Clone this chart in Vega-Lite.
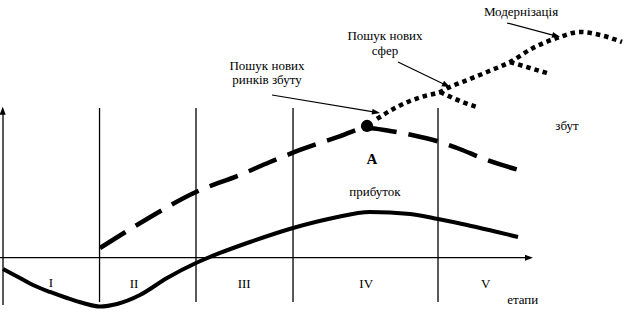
{
  "$schema": "https://vega.github.io/schema/vega-lite/v6.json",
  "width": 626,
  "height": 319,
  "padding": 0,
  "autosize": {"type": "none"},
  "config": {"view": {"stroke": null}},
  "datasets": {
    "profit": [
      {"x": 0.48, "y": -4.53}, {"x": 3.19, "y": -8.15}, {"x": 5.27, "y": -10.95}, {"x": 7.99, "y": -13.76},
      {"x": 10.7, "y": -16.17}, {"x": 13.26, "y": -18.18},
      {"x": 15.97, "y": -19.58}, {"x": 18.69, "y": -18.58}, {"x": 22.36, "y": -14.97}, {"x": 26.68, "y": -8.15},
      {"x": 31.31, "y": -2.13}, {"x": 35.14, "y": 1.89}, {"x": 39.94, "y": 6.3}, {"x": 46.81, "y": 11.92},
      {"x": 53.19, "y": 15.93}, {"x": 59.11, "y": 18.34}, {"x": 65.5, "y": 17.54}, {"x": 69.97, "y": 15.53},
      {"x": 74.6, "y": 13.12}, {"x": 78.75, "y": 10.71}, {"x": 82.75, "y": 8.31}
    ],
    "sales": [
      {"x": 15.97, "y": 3.89}, {"x": 22.68, "y": 14.33}, {"x": 31.31, "y": 26.37}, {"x": 38.34, "y": 33.19},
      {"x": 43.13, "y": 38.4}, {"x": 47.92, "y": 43.22}, {"x": 53.99, "y": 48.44}, {"x": 58.63, "y": 52.05},
      {"x": 62.3, "y": 50.84}, {"x": 65.81, "y": 49.24}, {"x": 70.29, "y": 46.43}, {"x": 73.0, "y": 44.02},
      {"x": 77.8, "y": 39.21}, {"x": 84.03, "y": 34.4}
    ],
    "growth": [
      {"branch": "main", "x": 60.22, "y": 55.66}, {"branch": "main", "x": 63.1, "y": 60.07},
      {"branch": "main", "x": 65.5, "y": 62.88}, {"branch": "main", "x": 67.89, "y": 64.89},
      {"branch": "main", "x": 70.29, "y": 66.49}, {"branch": "main", "x": 71.88, "y": 68.5},
      {"branch": "main", "x": 75.08, "y": 71.71}, {"branch": "main", "x": 77.8, "y": 74.52},
      {"branch": "main", "x": 81.47, "y": 78.53}, {"branch": "main", "x": 85.14, "y": 84.15},
      {"branch": "main", "x": 88.98, "y": 88.17}, {"branch": "main", "x": 92.65, "y": 90.57},
      {"branch": "main", "x": 95.85, "y": 89.37}, {"branch": "main", "x": 99.36, "y": 86.56},
      {"branch": "spheres", "x": 70.29, "y": 66.49}, {"branch": "spheres", "x": 73.48, "y": 62.88},
      {"branch": "spheres", "x": 76.2, "y": 60.47},
      {"branch": "modern", "x": 81.47, "y": 78.53}, {"branch": "modern", "x": 84.66, "y": 76.12},
      {"branch": "modern", "x": 87.86, "y": 73.72}
    ],
    "frame": [
      {"x": 0.48, "y": -19.0, "x2": 0.48, "y2": 59.5},
      {"x": 0.0, "y": 0.0, "x2": 84.4, "y2": 0.0},
      {"x": 15.9, "y": -17.8, "x2": 15.9, "y2": 60.1},
      {"x": 31.31, "y": -17.8, "x2": 31.31, "y2": 60.1},
      {"x": 46.81, "y": -17.8, "x2": 46.81, "y2": 60.1},
      {"x": 69.97, "y": -17.8, "x2": 69.97, "y2": 60.1}
    ],
    "pointers": [
      {"x": 80.99, "y": 94.18, "x2": 89.2, "y2": 88.7},
      {"x": 63.58, "y": 78.53, "x2": 71.6, "y2": 68.8},
      {"x": 43.45, "y": 65.29, "x2": 60.4, "y2": 58.2}
    ],
    "labels": [
      {"x": 83.23, "y": 98.6, "t": "Модернізація"},
      {"x": 61.5, "y": 89.0, "t": "Пошук нових"},
      {"x": 61.5, "y": 82.9, "t": "сфер"},
      {"x": 42.65, "y": 76.9, "t": "Пошук нових"},
      {"x": 42.65, "y": 71.3, "t": "ринків збуту"},
      {"x": 90.58, "y": 52.9, "t": "збут"},
      {"x": 59.9, "y": 26.4, "t": "прибуток"},
      {"x": 8.15, "y": -10.2, "t": "I"},
      {"x": 21.4, "y": -10.6, "t": "II"},
      {"x": 39.0, "y": -10.6, "t": "III"},
      {"x": 58.5, "y": -10.6, "t": "IV"},
      {"x": 77.6, "y": -10.6, "t": "V"},
      {"x": 83.5, "y": -17.0, "t": "етапи"}
    ]
  },
  "encoding": {
    "x": {"field": "x", "type": "quantitative", "scale": {"domain": [0, 100], "nice": false, "zero": false}, "axis": null},
    "y": {"field": "y", "type": "quantitative", "scale": {"domain": [-24.6, 103.4], "nice": false, "zero": false}, "axis": null}
  },
  "layer": [
    {
      "data": {"name": "frame"},
      "mark": {"type": "rule", "color": "black", "strokeWidth": 1.3},
      "encoding": {"x2": {"field": "x2"}, "y2": {"field": "y2"}}
    },
    {
      "data": {"name": "pointers"},
      "mark": {"type": "rule", "color": "black", "strokeWidth": 1.2},
      "encoding": {"x2": {"field": "x2"}, "y2": {"field": "y2"}}
    },
    {
      "data": {"values": [{"x": 0.43, "y": 60.6}]},
      "mark": {"type": "point", "shape": "M0,0L-2,-0.75L-2,0.75Z", "size": 64, "angle": -90, "filled": true, "color": "black", "opacity": 1}
    },
    {
      "data": {"values": [{"x": 85.14, "y": 0.0}]},
      "mark": {"type": "point", "shape": "M0,0L-2,-0.75L-2,0.75Z", "size": 64, "angle": 0, "filled": true, "color": "black", "opacity": 1}
    },
    {
      "data": {"values": [{"x": 89.46, "y": 88.56}]},
      "mark": {"type": "point", "shape": "M0,0L-2,-0.75L-2,0.75Z", "size": 64, "angle": 15, "filled": true, "color": "black", "opacity": 1}
    },
    {
      "data": {"values": [{"x": 71.88, "y": 68.5}]},
      "mark": {"type": "point", "shape": "M0,0L-2,-0.75L-2,0.75Z", "size": 64, "angle": 26, "filled": true, "color": "black", "opacity": 1}
    },
    {
      "data": {"values": [{"x": 60.7, "y": 58.07}]},
      "mark": {"type": "point", "shape": "M0,0L-2,-0.75L-2,0.75Z", "size": 64, "angle": 9.5, "filled": true, "color": "black", "opacity": 1}
    },
    {
      "data": {"name": "profit"},
      "mark": {"type": "line", "interpolate": "monotone", "color": "black", "strokeWidth": 4}
    },
    {
      "data": {"name": "sales"},
      "mark": {"type": "line", "interpolate": "monotone", "color": "black", "strokeWidth": 4.5, "strokeDash": [30, 12], "strokeCap": "butt"}
    },
    {
      "data": {"name": "growth"},
      "mark": {"type": "line", "interpolate": "monotone", "color": "black", "strokeWidth": 4.5, "strokeDash": [4.5, 4], "strokeCap": "butt"},
      "encoding": {"detail": {"field": "branch"}}
    },
    {
      "data": {"values": [{"x": 58.63, "y": 52.85}]},
      "mark": {"type": "point", "shape": "circle", "size": 150, "filled": true, "color": "black", "opacity": 1}
    },
    {
      "data": {"values": [{"x": 59.42, "y": 39.6, "t": "A"}]},
      "mark": {"type": "text", "font": "Liberation Serif, Times New Roman, serif", "fontWeight": "bold", "fontSize": 15, "baseline": "middle", "color": "black"},
      "encoding": {"text": {"field": "t"}}
    },
    {
      "data": {"name": "labels"},
      "mark": {"type": "text", "font": "Liberation Serif, Times New Roman, serif", "fontSize": 13, "baseline": "middle", "color": "black"},
      "encoding": {"text": {"field": "t"}}
    }
  ]
}
